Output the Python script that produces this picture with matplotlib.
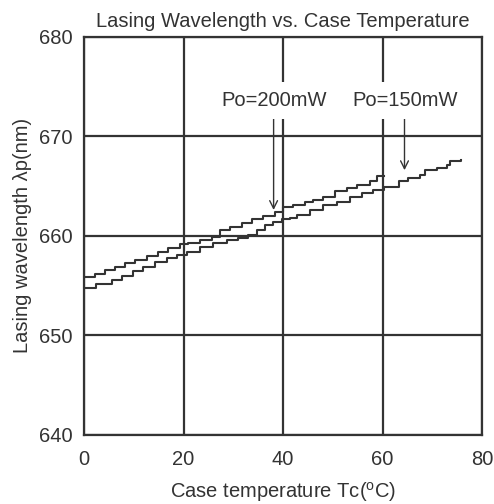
import matplotlib
matplotlib.use("Agg")
import matplotlib.pyplot as plt

plt.rcParams['font.family'] = ['Liberation Sans', 'DejaVu Sans']
plt.rcParams['mathtext.fontset'] = 'custom'
plt.rcParams['mathtext.rm'] = 'Liberation Sans'

# step corners (temperature degC, wavelength nm)
t_200 = [0, 2.2, 4.2, 6.2, 8.2, 10.3, 12.6, 14.9, 16.9, 19.3, 21.0, 23.3, 25.7, 27.3,
         29.3, 31.7, 33.7, 36.0, 38.4, 40.0, 42.0, 44.4, 46.0, 48.1, 50.4, 52.8,
         54.8, 57.5, 58.8, 60.2]
wl_200 = [655.9, 656.2, 656.6, 656.9, 657.3, 657.6, 658.0, 658.4, 658.8, 659.2, 659.3,
          659.6, 659.9, 660.6, 660.9, 661.3, 661.7, 662.0, 662.4, 662.9, 663.1, 663.4,
          663.6, 663.9, 664.5, 664.8, 665.1, 665.5, 666.0, 666.0]

t_150 = [0, 2.5, 5.6, 7.6, 9.9, 11.9, 14.3, 16.6, 18.6, 20.6, 23.3, 26.0, 28.7, 31.0,
         33.0, 34.7, 36.4, 38.0, 39.7, 41.4, 42.8, 45.4, 48.1, 50.8, 53.5, 55.8, 58.1,
         60.2, 63.2, 65.2, 67.5, 68.5, 70.9, 72.9, 73.6, 75.7]
wl_150 = [654.8, 655.2, 655.6, 656.0, 656.5, 656.9, 657.4, 657.8, 658.1, 658.4, 658.9,
          659.3, 659.6, 659.8, 660.1, 660.6, 661.1, 661.4, 661.7, 661.8, 662.1, 662.6,
          663.1, 663.4, 663.9, 664.3, 664.6, 664.9, 665.5, 665.8, 666.1, 666.6, 666.8,
          667.1, 667.5, 667.6]

labels = ['Po=200mW', 'Po=150mW']
label_pos = [(38.3, 673.6), (64.5, 673.6)]
arrow_tips = [(38.1, 662.6), (64.4, 666.6)]

dark = '#333333'

fig = plt.figure(figsize=(4.94, 5.04), dpi=100)
ax = fig.add_axes([0.170, 0.137, 0.806, 0.790])

ax.plot(t_200, wl_200, drawstyle='steps-post', color=dark, lw=1.5)
ax.plot(t_150, wl_150, drawstyle='steps-post', color=dark, lw=1.5)

for lab, (lx, ly), (tx, ty) in zip(labels, label_pos, arrow_tips):
    ax.text(lx, ly, lab, ha='center', va='center', fontsize=14.5, color=dark,
            zorder=5, bbox=dict(fc='white', ec='none', pad=6.5))
    ax.annotate('', xy=(tx, ty), xytext=(tx, 671.9),
                arrowprops=dict(arrowstyle='->', color=dark, lw=1.0,
                                mutation_scale=14, shrinkA=0, shrinkB=0))

ax.set_xlim(0, 80)
ax.set_ylim(640, 680)
ax.set_xticks([0, 20, 40, 60, 80])
ax.set_yticks([640, 650, 660, 670, 680])
ax.grid(True, color=dark, lw=1.6)
ax.tick_params(length=0, labelsize=14.5, colors=dark)
ax.tick_params(axis='y', pad=8.5)
ax.tick_params(axis='x', pad=10.5)
for s in ax.spines.values():
    s.set_color(dark)
    s.set_linewidth(1.6)

ax.set_title('Lasing Wavelength vs. Case Temperature', fontsize=14.5, color=dark, pad=7)
ax.set_xlabel(r'Case temperature Tc($^{\rm o}$C)', fontsize=14.5, color=dark, labelpad=8.5)
ax.set_ylabel('Lasing wavelength λp(nm)', fontsize=14.5, color=dark, labelpad=5)

fig.savefig('out.png', dpi=100)
